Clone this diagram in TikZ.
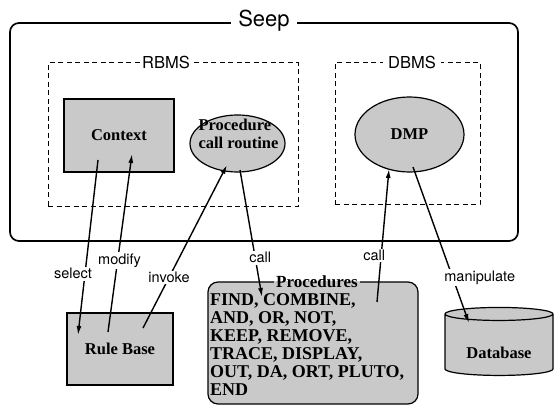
\documentclass[tikz,border=0pt]{standalone}
\usepackage{fontspec}
\setmainfont{Liberation Serif}
\setsansfont{TeX Gyre Heros}
\usetikzlibrary{arrows.meta,shapes.geometric,calc}

\colorlet{stipple}{black!21}

\begin{document}
\begin{tikzpicture}[x=1pt, y=-1pt, >={Latex[length=9pt,width=5pt]},
	every node/.style={inner sep=0pt},
	blob/.style={draw, fill=stipple, line width=1.2pt, font=\bfseries\fontsize{16.5}{18}\selectfont},
	group/.style={draw, dash pattern=on 5pt off 3.5pt, line width=1pt},
	title/.style={fill=white, font=\sffamily\fontsize{16.5}{18}\selectfont, inner xsep=2pt, inner ysep=1pt},
	lbl/.style={fill=white, font=\sffamily\fontsize{14.5}{16}\selectfont, inner sep=1.5pt},
	conn/.style={->, line width=1.4pt}]
	\useasboundingbox (0,0) rectangle (555,406);
	% frames
	\node[draw, line width=1.7pt, rounded corners=9pt, minimum width=508pt, minimum height=218pt] (seepbox) at (264,132) {};
	\node[group, minimum width=250pt, minimum height=144pt] (rbms) at (173,135) {};
	\node[group, minimum width=145pt, minimum height=142pt] (dbms) at (407.5,134) {};
	\node[fill=white, font=\sffamily\fontsize{22}{24}\selectfont, inner xsep=7pt, inner ysep=1pt, yshift=1pt] (seep) at (seepbox.north) {Seep};
	\node[title, xshift=-7pt] (rbmstitle) at (rbms.north) {RBMS};
	\node[title, xshift=4.5pt, inner xsep=5pt] (dbmstitle) at (dbms.north) {DBMS};
	% components
	\node[blob, minimum width=110pt, minimum height=73pt] (ctx) at (119,135.5) {Context};
	\node[blob, ellipse, minimum width=95pt, minimum height=57pt] (pcr) at (237.5,143.5) {};
	\node[font=\bfseries\fontsize{16.5}{18}\selectfont, align=left] (pcrtxt) at ($(pcr)+(1,-9.5)$) {Procedure\\call routine};
	\node[blob, ellipse, minimum width=109pt, minimum height=75pt] (dmp) at (409.5,134.5) {DMP};
	\node[blob, minimum width=106pt, minimum height=72pt] (rb) at (120,349) {Rule Base};
	\node[blob, rounded corners=10pt, minimum width=210pt, minimum height=122pt] (proc) at (313,343) {};
	\node[font=\bfseries\fontsize{18}{18}\selectfont, align=left, anchor=north west] (proclist) at (210,293) {FIND, COMBINE,\\AND, OR, NOT,\\KEEP, REMOVE,\\TRACE, DISPLAY,\\OUT, DA, ORT, PLUTO,\\END};
	\node[fill=white, font=\bfseries\fontsize{17}{18}\selectfont, inner xsep=2pt, inner ysep=1pt, xshift=4pt,
		path picture={\fill[stipple] (path picture bounding box.west) rectangle (path picture bounding box.south east);}] (proctitle) at (proc.north) {Procedures};
	\node[blob, cylinder, shape border rotate=90, aspect=0.2, minimum width=108pt, minimum height=68pt] (db) at (499,345) {\raisebox{-8pt}[\height][\depth]{Database}};
	% connectors
	\draw[conn] ($(ctx)+(-21,24.5)$) -- node[lbl, pos=0.65, xshift=-12pt] (sel) {select} ($(rb)+(-42,-14)$);
	\draw[conn] ($(rb)+(-12,-17)$) -- node[lbl, pos=0.4, xshift=2pt] (mod) {modify} ($(ctx)+(13,18.5)$);
	\draw[conn] ($(rb)+(23,-21)$) -- node[lbl, pos=0.31] (inv) {invoke} ($(pcr)+(-10.5,21.5)$);
	\draw[conn] ($(pcr)+(2.5,26.5)$) -- node[lbl, pos=0.69, xshift=5pt] (callp) {call} ($(proc)+(-51,-46)$);
	\draw[conn] ($(proc)+(64,-41)$) -- node[lbl, pos=0.35, xshift=-7pt] (calld) {call} ($(dmp)+(-20.5,34.5)$);
	\draw[conn] ($(dmp)+(3.5,32.5)$) -- node[lbl, pos=0.71, xshift=27pt] (manip) {manipulate} ($(db)+(-30,-22)$);
\end{tikzpicture}
\end{document}
